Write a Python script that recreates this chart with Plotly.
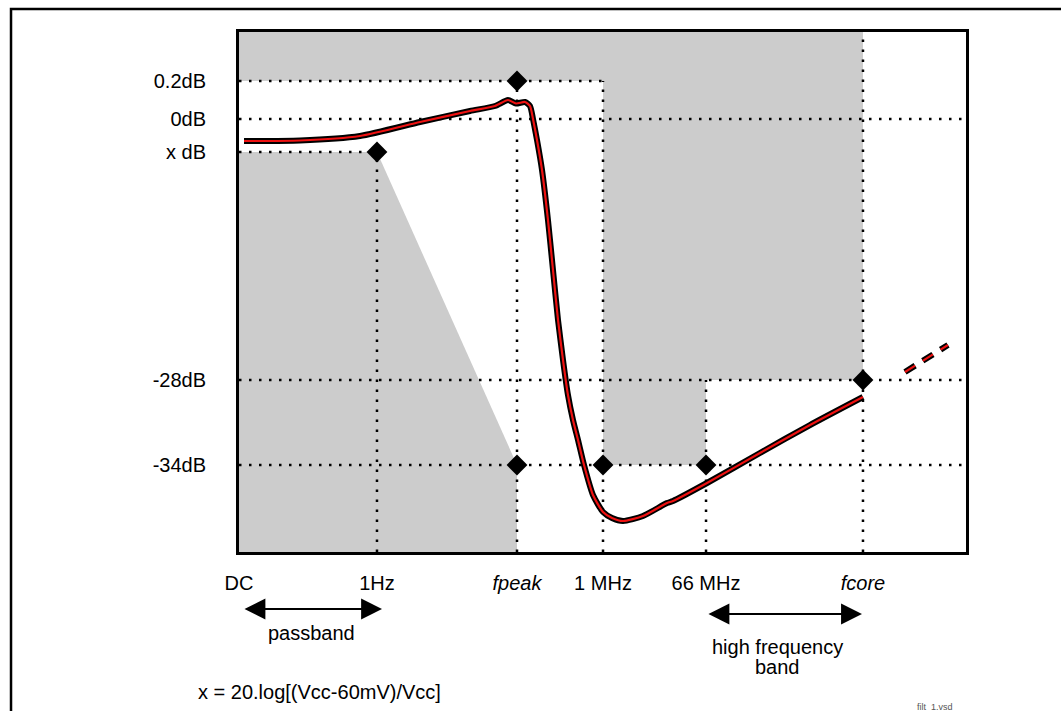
import plotly.graph_objects as go

# Schematic axes: both run 0..100 across the plot box.
# Frequency markers along x
freq_labels = ["DC", "1Hz", "<i>fpeak</i>", "1 MHz", "66 MHz", "<i>fcore</i>"]
freq_pos = [0.0, 18.98, 38.24, 50.07, 64.24, 85.83]

# Level markers along y
level_labels = ["0.2dB", "0dB", "x dB", "-28dB", "-34dB"]
level_pos = [90.58, 83.27, 76.92, 33.08, 16.73]

# Filter response curve (schematic)
curve_x = [0.69, 8.39, 16.64, 24.90, 31.77, 35.21, 37.00, 38.10, 39.34, 40.03,
           40.44, 40.99, 41.68, 42.50, 43.19, 43.88, 44.57, 45.25, 45.94, 46.63,
           47.46, 48.69, 50.07, 51.31, 52.82, 55.57, 58.87, 59.70, 64.37, 71.66,
           78.54, 85.83]
curve_y = [79.04, 79.13, 80.00, 82.69, 84.81, 85.77, 86.92, 86.25, 86.54, 85.77,
           83.27, 79.23, 73.46, 63.85, 54.23, 44.62, 36.92, 30.19, 25.38, 21.54,
           16.73, 10.96, 7.69, 6.54, 5.96, 6.92, 9.42, 9.81, 13.27, 19.04,
           24.42, 29.81]

# Continuation beyond fcore (dashed)
ext_x = [91.61, 97.52]
ext_y = [34.62, 39.81]

# Band arrows (x extents)
passband_x = [0.55, 19.67]
hfband_x = [64.37, 85.69]

GRAY = "#cccccc"
FONT = "Liberation Sans, Arial, sans-serif"
FS = 20
DC, F1HZ, FPEAK, F1M, F66M, FCORE = freq_pos
L02, L0, LX, L28, L34 = level_pos

fig = go.Figure()

# Shaded forbidden regions
fig.add_trace(go.Scatter(
    x=[0, FCORE, FCORE, F66M, F66M, F1M, F1M, 0, 0],
    y=[100, 100, L28, L28, L34, L34, L02, L02, 100],
    fill="toself", fillcolor=GRAY, mode="lines", line=dict(width=0),
    hoverinfo="skip", showlegend=False))
fig.add_trace(go.Scatter(
    x=[0, F1HZ, FPEAK, FPEAK, 0, 0],
    y=[LX, LX, L34, 0, 0, LX],
    fill="toself", fillcolor=GRAY, mode="lines", line=dict(width=0),
    hoverinfo="skip", showlegend=False))

# Dotted guide lines
guides = [
    ([0, F1M], [L02, L02]),
    ([0, 100], [L0, L0]),
    ([0, F1HZ], [LX, LX]),
    ([0, 100], [L28, L28]),
    ([0, 100], [L34, L34]),
    ([F1HZ, F1HZ], [0, LX]),
    ([FPEAK, FPEAK], [0, L02]),
    ([F1M, F1M], [0, L02]),
    ([F66M, F66M], [0, L28]),
    ([FCORE, FCORE], [0, 100]),
]
for gx, gy in guides:
    fig.add_trace(go.Scatter(x=gx, y=gy, mode="lines",
                             line=dict(color="black", width=2.5, dash="2.5px,7.5px"),
                             hoverinfo="skip", showlegend=False))

# Response curve: black outline with red core
fig.add_trace(go.Scatter(x=curve_x, y=curve_y, mode="lines",
                         line=dict(color="black", width=6, shape="spline", smoothing=0.6),
                         hoverinfo="skip", showlegend=False))
fig.add_trace(go.Scatter(x=curve_x, y=curve_y, mode="lines",
                         line=dict(color="#ee1111", width=2.2, shape="spline", smoothing=0.6),
                         hoverinfo="skip", showlegend=False))
fig.add_trace(go.Scatter(x=ext_x, y=ext_y, mode="lines",
                         line=dict(color="black", width=6, dash="12px,9px"),
                         hoverinfo="skip", showlegend=False))
fig.add_trace(go.Scatter(x=ext_x, y=ext_y, mode="lines",
                         line=dict(color="#ee1111", width=2.2, dash="12px,9px"),
                         hoverinfo="skip", showlegend=False))

# Corner markers of the mask
fig.add_trace(go.Scatter(
    x=[FPEAK, F1HZ, FPEAK, F1M, F66M, FCORE],
    y=[L02, LX, L34, L34, L34, L28],
    mode="markers", marker=dict(symbol="diamond", size=16, color="black"),
    hoverinfo="skip", showlegend=False))

annotations = []
# Band arrows
for (x0, x1), ypos in ((passband_x, -0.1096), (hfband_x, -0.1192)):
    annotations.append(dict(
        x=x1, y=ypos, xref="x", yref="paper",
        ax=x0, ay=0, axref="x", ayref="pixel",
        showarrow=True, arrowhead=2, arrowside="end+start",
        arrowsize=1.9, arrowwidth=2.2, arrowcolor="black", text=""))

txt = dict(showarrow=False, yanchor="middle",
           font=dict(family=FONT, size=FS, color="black"))
annotations += [
    dict(x=10.04, y=-0.1558, xref="x", yref="paper", xanchor="center",
         text="passband", **txt),
    dict(x=74.07, y=-0.1827, xref="x", yref="paper", xanchor="center",
         text="high frequency", **txt),
    dict(x=74.07, y=-0.2212, xref="x", yref="paper", xanchor="center",
         text="band", **txt),
    dict(x=-0.0591, y=-0.2692, xref="paper", yref="paper", xanchor="left",
         text="x = 20.log[(Vcc-60mV)/Vcc]", **txt),
    dict(x=0.957, y=-0.2975, xref="paper", yref="paper", xanchor="center",
         yanchor="middle", text="filt_1.vsd",
         showarrow=False, font=dict(family=FONT, size=9, color="#555555")),
]

fig.update_layout(
    width=1061, height=711,
    margin=dict(l=239, r=95, t=32, b=159),
    paper_bgcolor="white", plot_bgcolor="white",
    font=dict(family=FONT, size=FS, color="black"),
    annotations=annotations,
    shapes=[dict(type="rect", xref="paper", yref="paper",
                 x0=-0.3136, x1=1.3, y0=-0.6, y1=1.0442,
                 line=dict(color="black", width=2.5), layer="above")],
    xaxis=dict(range=[0, 100], tickvals=freq_pos, ticktext=freq_labels,
               showgrid=False, zeroline=False, showline=True, mirror=True,
               linecolor="black", linewidth=3, ticks="", ticklabelstandoff=11,
               tickfont=dict(family=FONT, size=FS, color="black")),
    yaxis=dict(range=[0, 100], tickvals=level_pos, ticktext=level_labels,
               showgrid=False, zeroline=False, showline=True, mirror=True,
               linecolor="black", linewidth=3, ticks="", ticklabelstandoff=26,
               tickfont=dict(family=FONT, size=FS, color="black")),
)

fig.write_html("out.html")
